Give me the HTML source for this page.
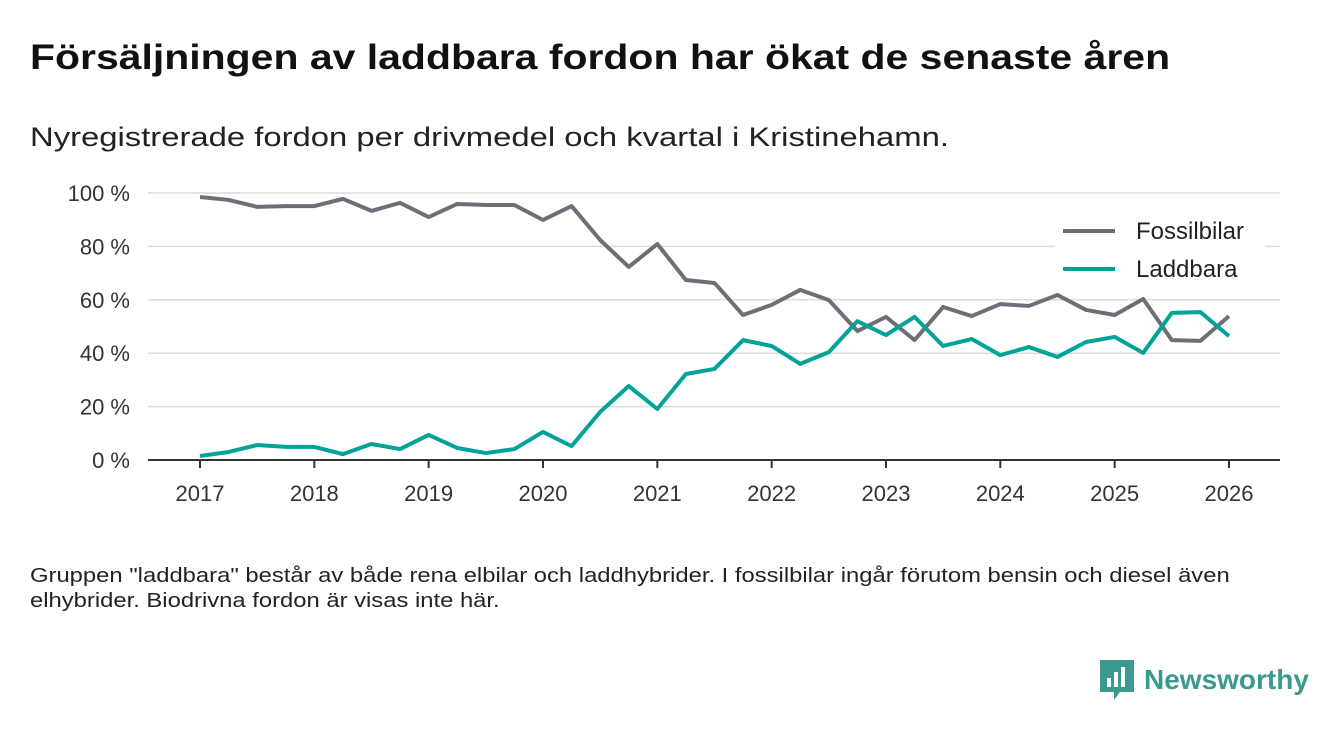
<!DOCTYPE html>
<html><head><meta charset="utf-8"><style>
body{margin:0;width:1340px;height:733px;background:#fff;font-family:"Liberation Sans","DejaVu Sans",sans-serif;overflow:hidden;position:relative;color:#111}
.t{position:absolute;left:30px;top:38px;font-size:35px;font-weight:bold;color:#111;transform:scaleX(1.17);transform-origin:0 0;white-space:nowrap}
.s{position:absolute;left:30px;top:122px;font-size:27px;color:#222;transform:scaleX(1.215);transform-origin:0 0;white-space:nowrap}
.f{position:absolute;left:30px;top:564px;font-size:20px;line-height:25px;color:#222;transform:scaleX(1.19);transform-origin:0 0;white-space:nowrap}
.logo{position:absolute;left:1100px;top:660px;display:flex;align-items:center;gap:10px;color:#3a9a8f;font-size:28px;font-weight:bold}
</style></head><body>
<div class="t">Försäljningen av laddbara fordon har ökat de senaste åren</div>
<div class="s">Nyregistrerade fordon per drivmedel och kvartal i Kristinehamn.</div>
<svg id="c" width="1340" height="733" style="position:absolute;left:0;top:0"></svg>
<div class="f">Gruppen "laddbara" består av både rena elbilar och laddhybrider. I fossilbilar ingår förutom bensin och diesel även<br>elhybrider. Biodrivna fordon är visas inte här.</div>
<div class="logo"><svg width="34" height="40" viewBox="0 0 34 40"><path d="M0 0H34V32H20L14 40V32H0Z" fill="#3a9a8f"/><rect x="7" y="18" width="4" height="9" fill="#fff"/><rect x="14" y="12" width="4" height="15" fill="#fff"/><rect x="21" y="7" width="4" height="20" fill="#fff"/></svg><span>Newsworthy</span></div>
<script>
const yearTicks=[2017,2018,2019,2020,2021,2022,2023,2024,2025,2026];
const yTicks=[0,20,40,60,80,100];
const fossil=[98.5,97.4,94.8,95.1,95.1,97.8,93.3,96.3,91,95.9,95.5,95.5,89.9,95.1,82.4,72.3,80.9,67.4,66.3,54.3,58.1,63.7,59.9,48.3,53.6,44.9,57.3,53.9,58.4,57.7,61.8,56.2,54.3,60.3,44.9,44.6,53.9];
const laddbara=[1.5,3,5.6,4.9,4.9,2.2,6,4.1,9.4,4.5,2.6,4.1,10.5,5.2,18,27.7,19.1,32.2,34.1,44.9,42.7,36,40.4,52,46.8,53.6,42.7,45.3,39.3,42.3,38.6,44.2,46.1,40.1,55.1,55.4,46.4];
const NS="http://www.w3.org/2000/svg",svg=document.getElementById('c');
const x=t=>200+(t-2017)*114.33, y=v=>460-v*2.67;
function el(tag,a,p){const e=document.createElementNS(NS,tag);for(const k in a)e.setAttribute(k,a[k]);(p||svg).appendChild(e);return e;}
yTicks.forEach(v=>{
 const g=el('line',{x1:148,x2:1280,y1:y(v),y2:y(v),stroke:v?'#dcdcdc':'#333','stroke-width':v?1.5:2});
 
 
 const t=el('text',{x:130,y:y(v)+8,'text-anchor':'end','font-size':22,fill:'#333'});t.textContent=v+' %';
 
 
});
yearTicks.forEach(yr=>{
 const tk=el('line',{x1:x(yr),x2:x(yr),y1:460,y2:468,stroke:'#333','stroke-width':2});
 
 
 const t=el('text',{x:x(yr),y:501,'text-anchor':'middle','font-size':22,fill:'#333'});t.textContent=yr;
 
 
});
function line(d,col,name){
 const p=el('polyline',{points:d.map((v,i)=>x(2017+i/4)+','+y(v)).join(' '),fill:'none',stroke:col,'stroke-width':4,'stroke-linejoin':'round'});
 
 
}
line(fossil,'#6f6e76','fossil-line');
line(laddbara,'#00a397','laddbara-line');
el('rect',{x:1055,y:212,width:210,height:75,fill:'#fff'});
[['Fossilbilar','#6f6e76',231],['Laddbara','#00a397',269]].forEach(([n,c,yy])=>{
 const l=el('line',{x1:1063,x2:1115,y1:yy,y2:yy,stroke:c,'stroke-width':4});
 
 
 const t=el('text',{x:1136,y:yy+8,'font-size':24,fill:'#222'});t.textContent=n;
 
 
});
</script>
</body></html>
